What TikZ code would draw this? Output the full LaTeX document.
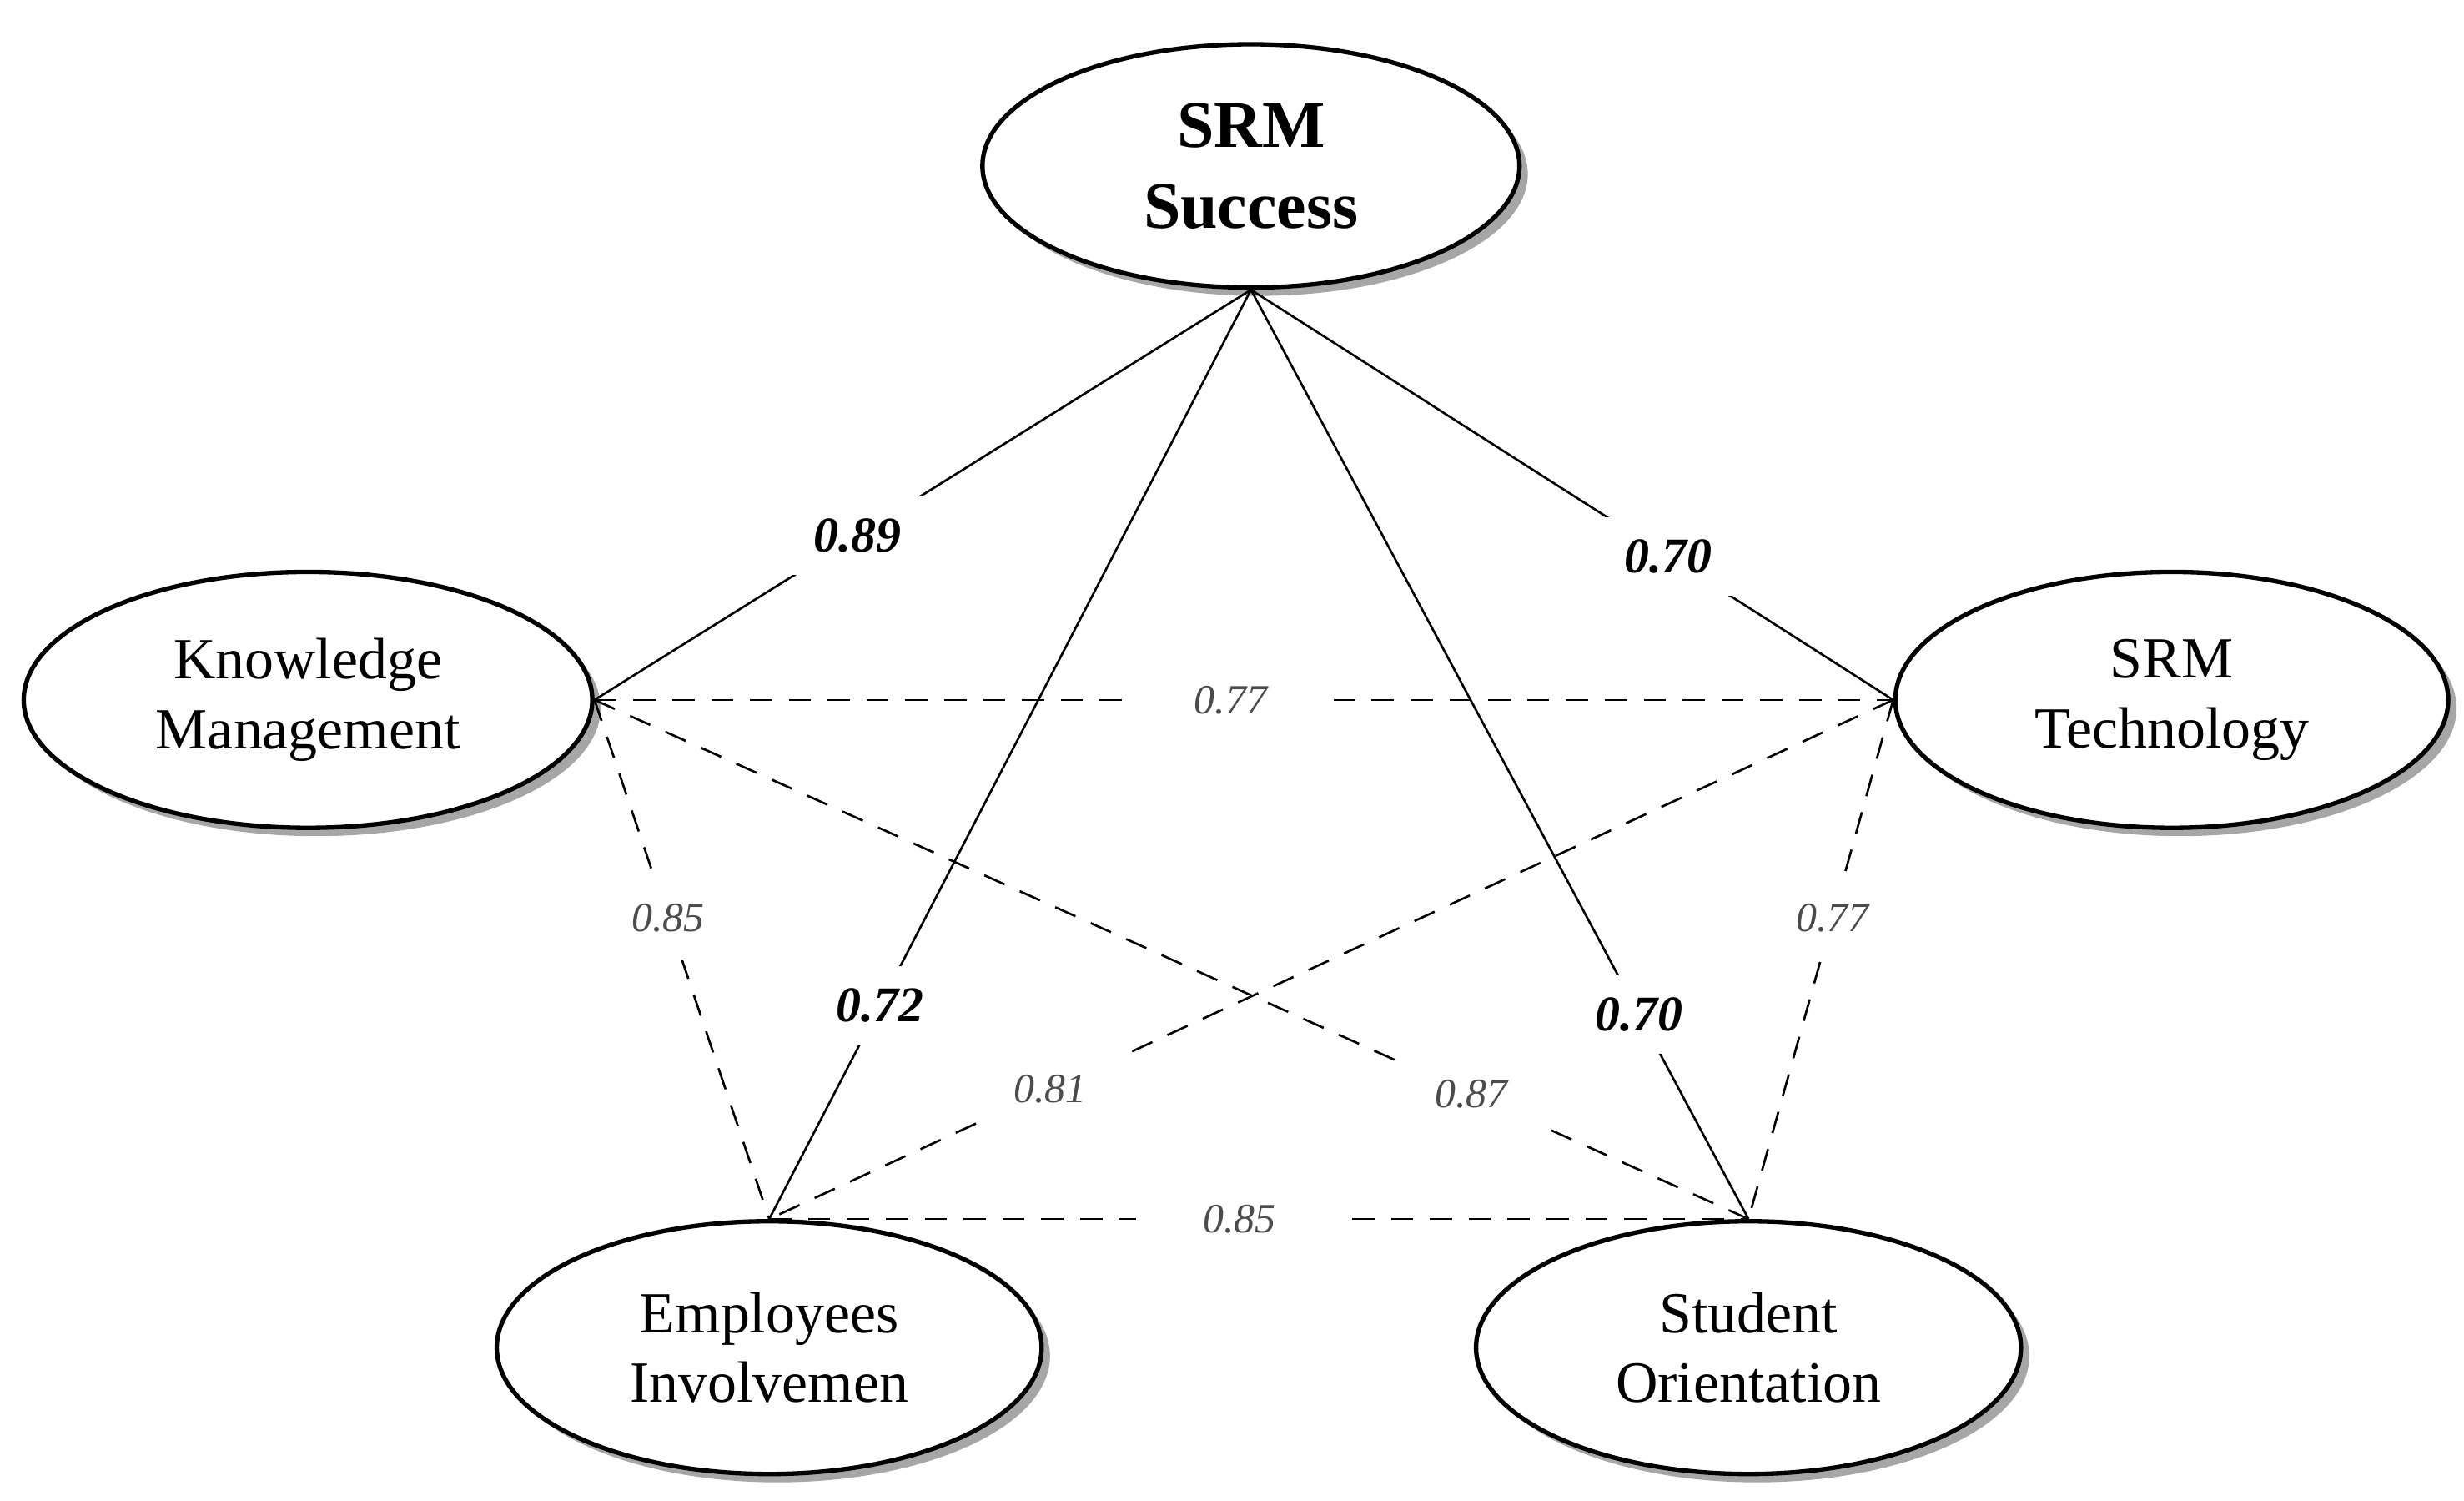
\documentclass[tikz,border=0pt]{standalone}
\usepackage{fontspec}
\setmainfont{Liberation Serif}
\usetikzlibrary{shapes.geometric,shadows}
\begin{document}
\begin{tikzpicture}[x=0.1mm,y=-0.1mm,
  ell/.style={ellipse,draw,thick,fill=white,minimum width=#1,align=center,font=\fontsize{10.5}{12.5}\selectfont,
    drop shadow={shadow xshift=1.5pt,shadow yshift=-1.5pt,opacity=0.7}},
  solid line/.style={thin,black},
  dash line/.style={thin,dashed,dash pattern=on 4pt off 3pt},
  blab/.style={fill=white,inner sep=4pt,font=\fontsize{9}{10}\selectfont\bfseries\itshape},
  dlab/.style={fill=white,inner xsep=12pt,inner ysep=5pt,text=black!70,font=\fontsize{7.5}{9}\selectfont\itshape}]
\useasboundingbox (0,0) rectangle (1560,950);
\node[ell=34mm,minimum height=15.4mm,font=\fontsize{12}{14.5}\selectfont\bfseries] (ss) at (792,105) {SRM\\Success};
\node[ell=36mm,minimum height=16.2mm] (km) at (195,443) {Knowledge\\Management};
\node[ell=35mm,minimum height=16.2mm] (st) at (1375,443) {SRM\\Technology};
\node[ell=34.5mm,minimum height=16mm] (ei) at (487,853) {Employees\\Involvemen};
\node[ell=34.5mm,minimum height=16mm] (so) at (1107,853) {Student\\Orientation};
\draw[solid line] (ss.south) -- node[blab,pos=0.6]{0.89} (km.east);
\draw[solid line] (ss.south) -- node[blab,pos=0.65]{0.70} (st.west);
\draw[solid line] (ss.south) -- node[blab,pos=0.77]{0.72} (ei.north);
\draw[solid line] (ss.south) -- node[blab,pos=0.78]{0.70} (so.north);
\draw[dash line] (km.east) -- node[dlab,pos=0.49]{0.77} (st.west);
\draw[dash line] (km.east) -- node[dlab,pos=0.42,inner xsep=3pt]{0.85} (ei.north);
\draw[dash line] (st.west) -- node[dlab,pos=0.42,inner xsep=3pt]{0.77} (so.north);
\draw[dash line] (st.west) -- node[dlab,pos=0.75,inner xsep=6pt]{0.81} (ei.north);
\draw[dash line] (km.east) -- node[dlab,pos=0.76,inner xsep=6pt]{0.87} (so.north);
\draw[dash line] (ei.north) -- node[dlab,pos=0.48]{0.85} (so.north);
\end{tikzpicture}
\end{document}
